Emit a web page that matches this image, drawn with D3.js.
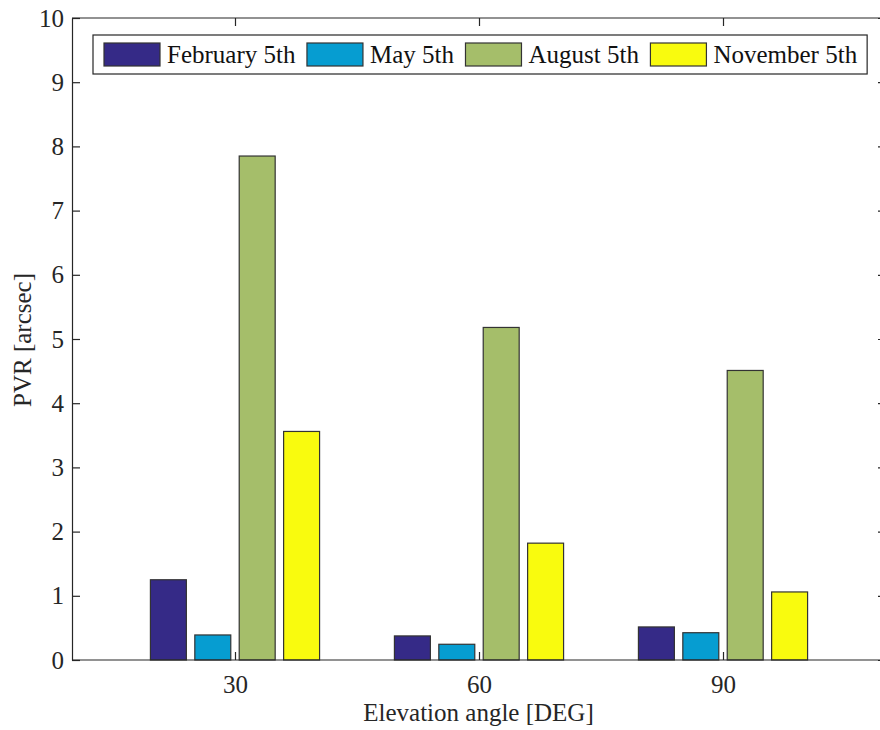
<!DOCTYPE html>
<html>
<head>
<meta charset="utf-8">
<script src="https://cdn.jsdelivr.net/npm/d3@7"></script>
<style>
  html, body { margin: 0; padding: 0; background: #fff; }
  svg { display: block; }
  svg text { font-family: "Liberation Serif", "Times New Roman", "DejaVu Serif", serif; }
</style>
</head>
<body>
<svg id="chart" width="880" height="730"></svg>
<script>
const categories = ["30", "60", "90"];
const seriesNames = ["February 5th", "May 5th", "August 5th", "November 5th"];
const seriesColors = ["#352a87", "#069dd1", "#a5be6a", "#f9fb0e"];
const february = [1.25, 0.375, 0.515];
const may = [0.39, 0.245, 0.425];
const august = [7.85, 5.18, 4.51];
const november = [3.56, 1.82, 1.06];
const seriesValues = [february, may, august, november];
const yTicks = [0, 1, 2, 3, 4, 5, 6, 7, 8, 9, 10];

(function () {
const svg = d3.select("#chart");
const mLeft = 72, mRight = 886, mTop = 18, mBottom = 660;
const axisColor = "#262626";
const fontSize = 25;
const serif = '"Liberation Serif", "Times New Roman", "DejaVu Serif", serif';

const x0 = d3.scaleBand().domain(categories).range([mLeft, mRight])
  .paddingInner(0).paddingOuter(0.168);
const groupHalf = 88.8;
const x1 = d3.scaleBand().domain(seriesNames).range([-groupHalf, groupHalf])
  .paddingInner(0.19).paddingOuter(0.095);
const y = d3.scaleLinear().domain([0, 10]).range([mBottom, mTop]);

// bars
const g = svg.append("g");
categories.forEach((c, ci) => {
  const cx = x0(c) + x0.bandwidth() / 2;
  seriesNames.forEach((s, si) => {
    const v = seriesValues[si][ci];
    g.append("rect")
      .attr("x", cx + x1(s))
      .attr("y", y(v))
      .attr("width", x1.bandwidth())
      .attr("height", y(0) - y(v))
      .attr("fill", seriesColors[si])
      .attr("stroke", "#333")
      .attr("stroke-width", 1.2);
  });
});

// axes
const tickLen = 8;
const yAxisL = d3.axisLeft(y).tickValues(yTicks).tickSizeInner(-tickLen).tickSizeOuter(0).tickPadding(8).tickFormat(d3.format("d"));
const yAxisR = d3.axisRight(y).tickValues(yTicks).tickSizeInner(-tickLen).tickSizeOuter(0).tickFormat("");
const xScaleCenter = d3.scalePoint().domain(categories)
  .range([x0(categories[0]) + x0.bandwidth() / 2, x0(categories[categories.length - 1]) + x0.bandwidth() / 2]);
const xAxisB = d3.axisBottom(xScaleCenter).tickSizeInner(-tickLen).tickSizeOuter(0).tickPadding(15);
const xAxisT = d3.axisTop(xScaleCenter).tickSizeInner(-tickLen).tickSizeOuter(0).tickFormat("");

function styleAxis(sel) {
  sel.attr("font-family", serif).attr("font-size", fontSize);
  sel.select(".domain").attr("stroke", axisColor).attr("stroke-width", 1.2);
  sel.selectAll(".tick line").attr("stroke", axisColor).attr("stroke-width", 1.2);
  sel.selectAll(".tick text").attr("fill", axisColor)
    .style("font-family", serif).style("font-size", fontSize + "px");
}

const xAxisBG = svg.append("g").attr("transform", `translate(0,${mBottom})`).call(xAxisB).call(styleAxis);
xAxisBG.select(".domain").attr("d", `M${mLeft},0H${mRight}`);
const xAxisTG = svg.append("g").attr("transform", `translate(0,${mTop})`).call(xAxisT).call(styleAxis);
xAxisTG.select(".domain").attr("d", `M${mLeft},0H${mRight}`);
svg.append("g").attr("transform", `translate(${mLeft},0)`).call(yAxisL).call(styleAxis);
svg.append("g").attr("transform", `translate(${mRight},0)`).call(yAxisR).call(styleAxis);

// axis labels
svg.append("text")
  .attr("x", 478.5)
  .attr("y", 721)
  .attr("text-anchor", "middle")
  .attr("fill", axisColor)
  .style("font-family", serif)
  .style("font-size", fontSize + "px")
  .text("Elevation angle [DEG]");
svg.append("text")
  .attr("transform", `translate(31,340) rotate(-90)`)
  .attr("text-anchor", "middle")
  .attr("fill", axisColor)
  .style("font-family", serif)
  .style("font-size", fontSize + "px")
  .text("PVR [arcsec]");

// legend
const legend = svg.append("g");
const lx = 93, ly = 35, lh = 39;
const legBox = legend.append("rect")
  .attr("x", lx).attr("y", ly).attr("height", lh)
  .attr("fill", "#fff").attr("stroke", axisColor).attr("stroke-width", 1.2);
let cur = lx + 11;
seriesNames.forEach((s, i) => {
  legend.append("rect")
    .attr("x", cur).attr("y", ly + 8)
    .attr("width", 56).attr("height", 23)
    .attr("fill", seriesColors[i]).attr("stroke", "#333").attr("stroke-width", 1.2);
  const t = legend.append("text")
    .attr("x", cur + 63).attr("y", ly + 28)
    .attr("fill", "#111")
    .style("font-family", serif)
    .style("font-size", fontSize + "px")
    .text(s);
  cur = cur + 63 + t.node().getComputedTextLength() + 11.5;
});
legBox.attr("width", cur - lx - 1.5);
})();
</script>
</body>
</html>
